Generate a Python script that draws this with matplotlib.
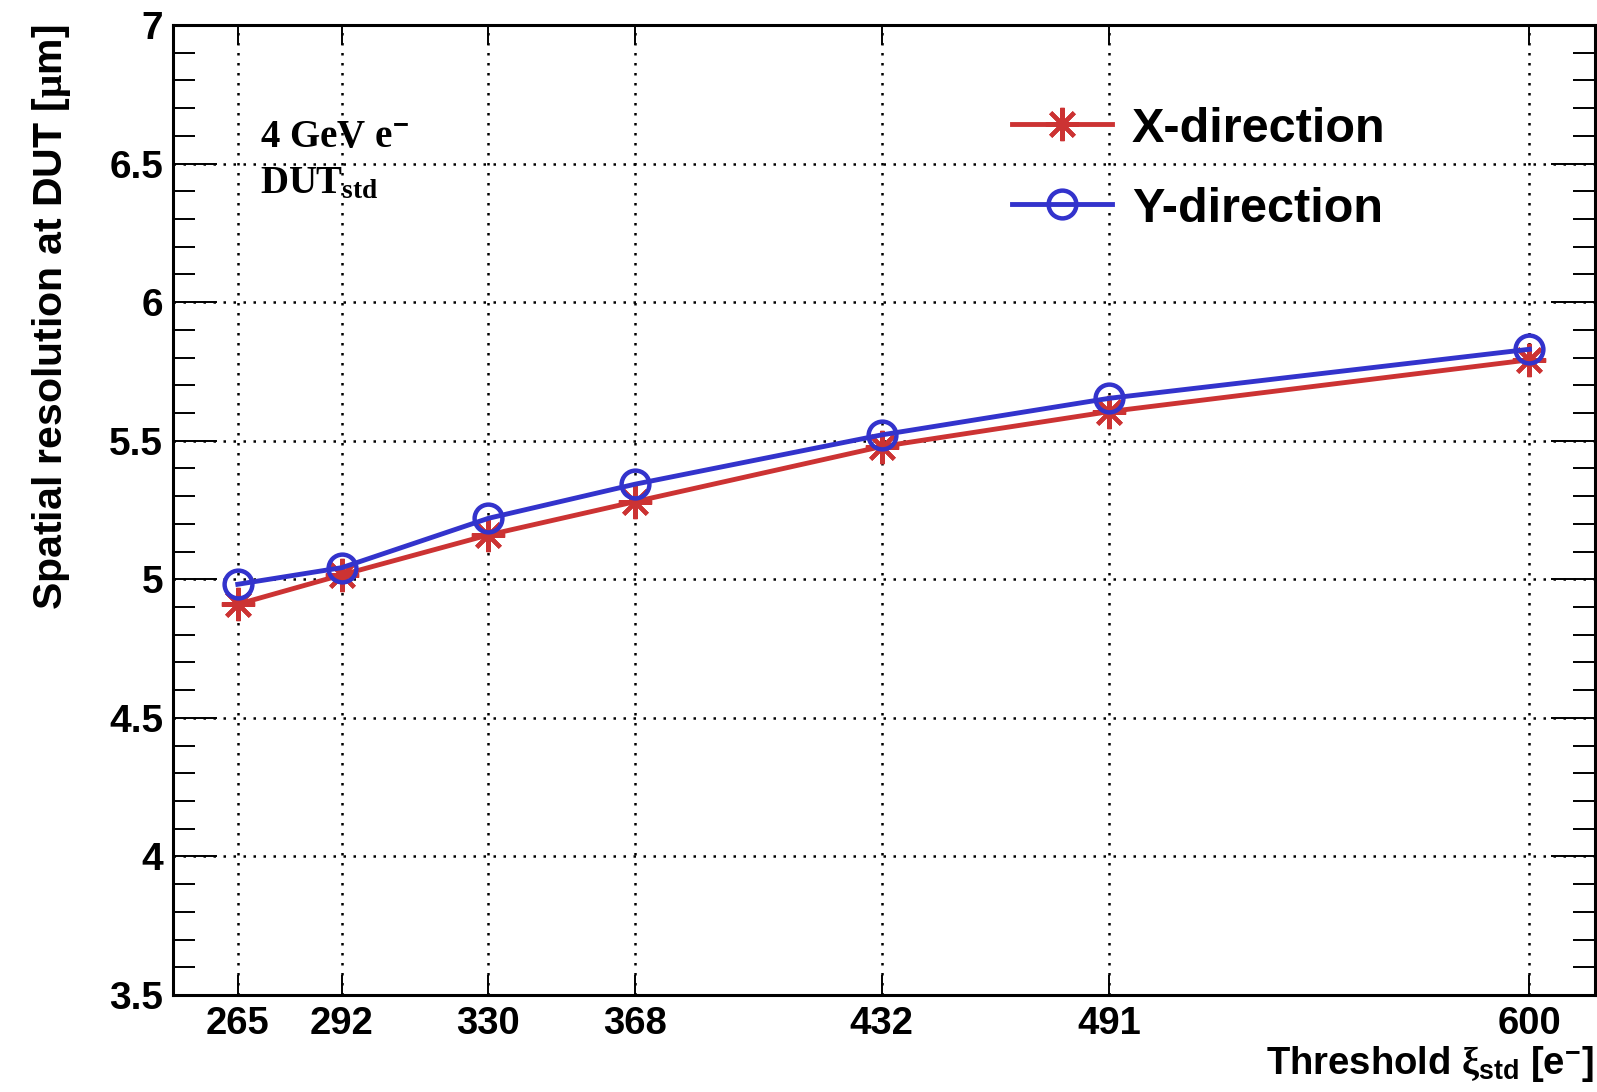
import numpy as np
import matplotlib
matplotlib.use("Agg")
import matplotlib.pyplot as plt
from matplotlib.ticker import MultipleLocator, FuncFormatter

plt.rcParams['font.family'] = ['Liberation Sans', 'DejaVu Sans']
plt.rcParams['font.weight'] = 'bold'
plt.rcParams['mathtext.fontset'] = 'custom'
plt.rcParams['mathtext.rm'] = 'Liberation Sans:bold'
plt.rcParams['mathtext.bf'] = 'Liberation Sans:bold'
plt.rcParams['mathtext.it'] = 'Liberation Serif'
plt.rcParams['mathtext.sf'] = 'Liberation Serif:bold'

# thresholds and measured resolutions
threshold = [265, 292, 330, 368, 432, 491, 600]
res_x = [4.91, 5.016, 5.16, 5.28, 5.479, 5.605, 5.792]
res_y = [4.982, 5.042, 5.22, 5.343, 5.521, 5.653, 5.83]

W, H = 1597, 1092
fig = plt.figure(figsize=(W / 100, H / 100), dpi=100)
ax = fig.add_axes([173 / W, 1 - 995 / H, (1595 - 173) / W, (995 - 25) / H])

red = '#cc3333'
blue = '#3333cc'

ax.plot(threshold, res_x, color=red, lw=3.5, marker=(8, 2, 0), ms=24, mew=3.0,
        label='X-direction', zorder=3)
ax.plot(threshold, res_y, color=blue, lw=3.5, marker='o', ms=20, mew=3.2,
        mfc='none', label='Y-direction', zorder=4)

ax.set_xlim(248.2, 617)
ax.set_ylim(3.5, 7)
ax.set_xticks(threshold)
ax.set_xticklabels([str(t) for t in threshold])
ax.yaxis.set_major_locator(MultipleLocator(0.5))
ax.yaxis.set_minor_locator(MultipleLocator(0.1))
ax.yaxis.set_major_formatter(FuncFormatter(lambda v, p: f'{v:g}'))

ax.tick_params(axis='x', which='major', direction='in', length=14.4, width=1.4,
               top=True, labelsize=27.5, pad=8)
ax.tick_params(axis='y', which='major', direction='in', length=31.7, width=1.4,
               right=True, labelsize=28, pad=7)
ax.tick_params(axis='y', which='minor', direction='in', length=15.8, width=1.4,
               right=True)
ax.tick_params(axis='x', which='minor', bottom=False, top=False)
for s in ax.spines.values():
    s.set_linewidth(2.2)

ax.grid(True, which='major', color='black', lw=1.8, ls=(0, (1, 3)))

# axis titles
fig.text(52 / W, 1 - 25 / H, r'Spatial resolution at DUT [$\mu$m]', rotation=90,
         ha='center', va='top', fontsize=29.5, fontweight='bold')
fig.text(1594 / W, 1 - 1074 / H, r'Threshold $\xi_{\mathbf{std}}$ [e$^{-}$]',
         ha='right', va='baseline', fontsize=27.5, fontweight='bold')

# annotation
fig.text(260 / W, 1 - 147 / H, r'4 GeV e$^{-}$', family='Liberation Serif',
         fontweight='bold', fontsize=28, va='baseline')
fig.text(260 / W, 1 - 193 / H, r'DUT$_{\mathsf{std}}$', family='Liberation Serif',
         fontweight='bold', fontsize=28, va='baseline')

leg = ax.legend(loc='center left', bbox_to_anchor=(1012 / W, 1 - 169 / H),
                bbox_transform=fig.transFigure, frameon=False, fontsize=35,
                handlelength=2.06, handletextpad=0.41, labelspacing=0.72,
                borderpad=0, borderaxespad=0)

fig.savefig('out.png', dpi=100)
